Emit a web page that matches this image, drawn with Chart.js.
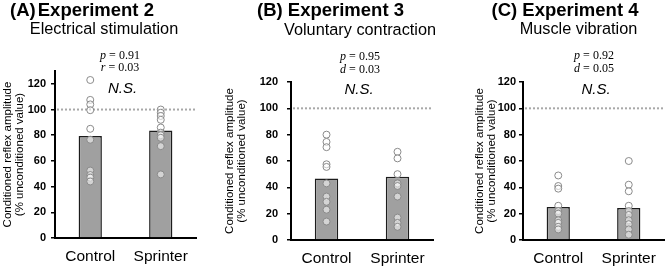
<!DOCTYPE html>
<html lang="en">
<head>
<meta charset="UTF-8"/>
<title>Conditioned reflex amplitude</title>
<script src="https://cdn.jsdelivr.net/npm/chart.js@4.4.2/dist/chart.umd.min.js"></script>
<style>
body{margin:0;background:#fff;font-family:"Liberation Sans",Arial,sans-serif;color:#000}
#wrap{position:relative;width:669px;height:266px;overflow:hidden}
canvas{position:absolute;top:0}
.t{position:absolute;line-height:1;white-space:nowrap;transform:translateX(-50%)}
.h{font-weight:bold;font-size:18.5px}
.s{font-size:16.3px}
.st{font-family:"Liberation Serif","Times New Roman",serif;font-size:12px}
.ns{font-style:italic;font-size:15px}
</style>
</head>
<body>
<div id="wrap">
<canvas id="cA" width="223" height="266" style="left:0"></canvas>
<canvas id="cB" width="223" height="266" style="left:223px"></canvas>
<canvas id="cC" width="223" height="266" style="left:446px"></canvas>

<div class="t h" style="left:82px;top:1.3px">(A)<span style="margin-left:2px">Experiment 2</span></div>
<div class="t s" style="left:104px;top:20.2px">Electrical stimulation</div>
<div class="t st" style="left:120px;top:49px"><i>p</i> = 0.91</div>
<div class="t st" style="left:120px;top:61px"><i>r</i> = 0.03</div>
<div class="t ns" style="left:122.5px;top:80.3px">N.S.</div>

<div class="t h" style="left:330.5px;top:1.3px">(B) Experiment 3</div>
<div class="t s" style="left:360px;top:21.2px">Voluntary contraction</div>
<div class="t st" style="left:360px;top:50px"><i>p</i> = 0.95</div>
<div class="t st" style="left:360px;top:62.5px"><i>d</i> = 0.03</div>
<div class="t ns" style="left:359px;top:81.3px">N.S.</div>

<div class="t h" style="left:565px;top:1.3px">(C) Experiment 4</div>
<div class="t s" style="left:578.5px;top:20.2px">Muscle vibration</div>
<div class="t st" style="left:594px;top:49px"><i>p</i> = 0.92</div>
<div class="t st" style="left:594px;top:62px"><i>d</i> = 0.05</div>
<div class="t ns" style="left:596px;top:81.3px">N.S.</div>
</div>
<script>
// groups and values
const groups = ["Control", "Sprinter"];
const yTitle = ["Conditioned reflex amplitude", "(% unconditioned value)"];
const refLine = 100;

const exp2Means = [79.4, 83.7];
const exp2Control = [123, 107.5, 104, 99.5, 85, 76.5, 52.5, 49, 47, 44];
const exp2Sprinter = [100, 97.5, 95, 92, 86, 82, 80, 78, 71.5, 49.5];

const exp3Means = [46.7, 48];
const exp3Control = [80, 74.5, 70.5, 57.5, 55.5, 43, 33, 29, 23, 14];
const exp3Sprinter = [67, 62, 50, 43, 41, 33, 17, 13, 10];

const exp4Means = [25, 24.3];
const exp4Control = [49, 41, 39, 26, 22, 20, 15, 13, 10, 8];
const exp4Sprinter = [60, 42, 37, 26, 22, 19, 15, 12, 8, 4];

Chart.defaults.font.family = '"Liberation Sans", Arial, sans-serif';
Chart.defaults.color = "#000";

const refLinePlugin = {
  id: "refLine",
  beforeDatasetsDraw(chart) {
    const {ctx, chartArea: a, scales: {y}} = chart;
    const py = y.getPixelForValue(refLine);
    ctx.save();
    ctx.strokeStyle = "#a8a8a8";
    ctx.lineWidth = 2;
    ctx.setLineDash([2, 2]);
    ctx.beginPath();
    ctx.moveTo(a.left + 2, py);
    ctx.lineTo(a.right, py);
    ctx.stroke();
    ctx.restore();
  }
};

function panel(id, means, ctrl, spr, o) {
  const pts = ctrl.map(v => ({x: groups[0], y: v})).concat(spr.map(v => ({x: groups[1], y: v})));
  return new Chart(document.getElementById(id), {
    data: {
      labels: groups,
      datasets: [
        {type: "line", data: pts, showLine: false, order: 0,
         pointRadius: 3.5, pointBorderWidth: 1, pointBorderColor: "#8a8a8a",
         pointBackgroundColor: "rgba(255,255,255,0.55)"},
        {type: "bar", data: means, order: 1, backgroundColor: "#a0a0a0",
         borderColor: "#1c1c1c", borderWidth: 1.5, barPercentage: 0.33, categoryPercentage: 1}
      ]
    },
    options: {
      responsive: false, animation: false, devicePixelRatio: 1,
      layout: {padding: {left: o.padL, right: o.padR, top: o.padT, bottom: 0}},
      plugins: {legend: {display: false}, tooltip: {enabled: false}},
      scales: {
        x: {
          afterFit: s => { s.height = o.xH; },
          grid: {display: false},
          border: {display: true, color: "#000", width: 2},
          ticks: {padding: 1, font: {size: 15.5}}
        },
        y: {
          min: 0, max: o.max,
          afterFit: s => { s.width = o.yW; },
          ticks: {stepSize: 20, includeBounds: false, padding: o.tickPad, font: {size: 11, weight: "bold"}},
          grid: {drawOnChartArea: false, drawTicks: true, tickLength: 4, color: "#000", lineWidth: 1.5},
          border: {display: true, color: "#000", width: 2},
          title: {display: true, text: yTitle, font: {size: 11.5, lineHeight: 1.05}, padding: {top: o.titlePad, bottom: 0}}
        }
      }
    },
    plugins: [refLinePlugin]
  });
}

panel("cA", exp2Means, exp2Control, exp2Sprinter, {padL: 1, yW: 54, padR: 27, padT: 71, xH: 28, max: 130, tickPad: 5, titlePad: 0.5});
panel("cB", exp3Means, exp3Control, exp3Sprinter, {padL: 0, yW: 68, padR: 13, padT: 82, xH: 26, max: 120, tickPad: 9, titlePad: 0.5});
panel("cC", exp4Means, exp4Control, exp4Sprinter, {padL: 27, yW: 50, padR: 0, padT: 82, xH: 26, max: 120, tickPad: 3, titlePad: 1});
</script>
</body>
</html>
